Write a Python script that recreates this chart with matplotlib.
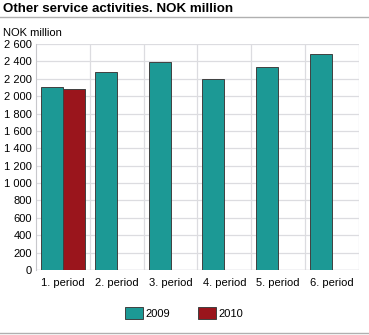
import matplotlib.pyplot as plt
import numpy as np
from matplotlib.lines import Line2D

plt.rcParams['font.family'] = ['Liberation Sans', 'DejaVu Sans']

periods = ["1. period", "2. period", "3. period", "4. period", "5. period", "6. period"]
values_2009 = [2110, 2275, 2390, 2195, 2340, 2490]
values_2010 = [2080, None, None, None, None, None]
yticks = list(range(0, 2601, 200))

teal = "#1c9995"
red = "#9a151c"

fig = plt.figure(figsize=(3.69, 3.35), dpi=100)
ax = fig.add_axes([36 / 369, 1 - 270 / 335, 323 / 369, 226 / 335])

x = np.arange(len(periods))
w = 0.41
ax.bar(x - w / 2, values_2009, w, color=teal, edgecolor="#404040", linewidth=0.7,
       label="2009", zorder=3)
x10 = [xi for xi, v in zip(x, values_2010) if v is not None]
v10 = [v for v in values_2010 if v is not None]
ax.bar(np.array(x10) + w / 2, v10, w, color=red, edgecolor="#404040", linewidth=0.7,
       label="2010", zorder=3)

ax.set_xlim(-0.5, len(periods) - 0.5)
ax.set_ylim(0, 2600)
ax.set_yticks(yticks)
ax.set_yticklabels([f"{t:,}".replace(",", " ") for t in yticks])
ax.set_xticks(x)
ax.set_xticklabels(periods)
ax.tick_params(axis="both", length=0, labelsize=8, colors="#000000")
ax.tick_params(axis="y", pad=3)
ax.tick_params(axis="x", pad=6)

ax.grid(axis="y", color="#dcdce0", linewidth=0.9, zorder=0)
for b in np.arange(0.5, len(periods) - 0.5):
    ax.axvline(b, color="#dcdce0", linewidth=0.9, zorder=0)
for side in ["top", "right", "bottom"]:
    ax.spines[side].set_visible(False)
ax.spines["left"].set_color("#c8c8cc")
ax.axvline(len(periods) - 0.5, color="#dcdce0", linewidth=0.9, zorder=0)
ax.axhline(0, color="#c8c8cc", linewidth=0.9, zorder=2)

fig.text(3 / 369, 1 - 9 / 335, "Other service activities. NOK million", fontsize=9.6,
         fontweight="bold", va="center", ha="left")
fig.add_artist(Line2D([0, 1], [1 - 17 / 335] * 2, color="#b0b0b0", linewidth=1))
fig.add_artist(Line2D([0, 1], [1 - 333 / 335] * 2, color="#b0b0b0", linewidth=1))
fig.text(3 / 369, 1 - 33 / 335, "NOK million", fontsize=8, va="center", ha="left")

fig.legend(loc="center", bbox_to_anchor=(0.5, 1 - 313 / 335), ncol=2, frameon=False,
           fontsize=8, handlelength=1.6, handleheight=1.35, columnspacing=2.5,
           handletextpad=0.25)

fig.savefig("out.png", dpi=100)
